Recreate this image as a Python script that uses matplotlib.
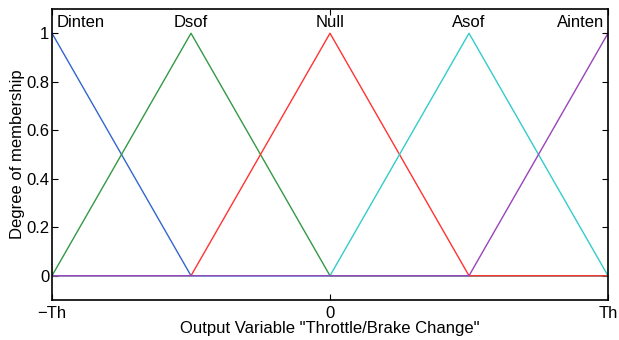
import numpy as np
import matplotlib
matplotlib.use('Agg')
import matplotlib.pyplot as plt

# membership functions of the output variable (triangles on [-Th, Th])
mf_names = ['Dinten', 'Dsof', 'Null', 'Asof', 'Ainten']
mf_params = [[-1.5, -1.0, -0.5],
             [-1.0, -0.5, 0.0],
             [-0.5, 0.0, 0.5],
             [0.0, 0.5, 1.0],
             [0.5, 1.0, 1.5]]
mf_colors = ['#3366cc', '#339944', '#ff3333', '#33cccc', '#9944bb']

x_ticks = [-1, 0, 1]
x_ticklabels = ['\u2212Th', '0', 'Th']
y_ticks = [0, 0.2, 0.4, 0.6, 0.8, 1]

plt.rcParams['font.family'] = ['Liberation Sans', 'DejaVu Sans']
plt.rcParams['xtick.direction'] = 'in'
plt.rcParams['ytick.direction'] = 'in'

fig = plt.figure(figsize=(6.19, 3.40), dpi=100)
ax = fig.add_axes([52/619, 40/340, 556/619, 291/340])

x = np.linspace(-1, 1, 2001)
for name, (a, b, c), col in zip(mf_names, mf_params, mf_colors):
    y = np.maximum(np.minimum((x - a) / (b - a), (c - x) / (c - b)), 0)
    ax.plot(x, y, color=col, lw=1.0)
    if b <= -1:
        ax.text(-0.985, 1.045, name, ha='left', va='center', fontsize=12)
    elif b >= 1:
        ax.text(0.985, 1.045, name, ha='right', va='center', fontsize=12)
    else:
        ax.text(b, 1.045, name, ha='center', va='center', fontsize=12)

ax.set_xlim(-1, 1)
ax.set_ylim(-0.1, 1.1)
ax.set_xticks(x_ticks)
ax.set_xticklabels(x_ticklabels, fontsize=12)
ax.set_yticks(y_ticks)
ax.set_yticklabels(['0', '0.2', '0.4', '0.6', '0.8', '1'], fontsize=12)
ax.tick_params(top=True, right=True, length=4, width=0.8, pad=4)
ax.tick_params(axis='y', pad=2)
for s in ax.spines.values():
    s.set_linewidth(1.2)

ax.set_xlabel('Output Variable "Throttle/Brake Change"', fontsize=12, labelpad=0)
ax.set_ylabel('Degree of membership', fontsize=12, labelpad=1)

plt.savefig('out.png', dpi=100)
